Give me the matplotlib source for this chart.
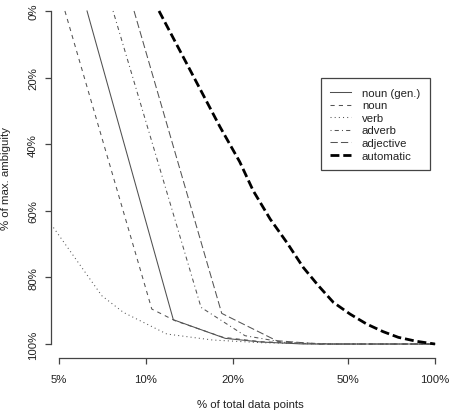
import matplotlib
matplotlib.use("Agg")
import matplotlib.pyplot as plt

plt.rcParams['font.family'] = ['Liberation Sans', 'DejaVu Sans']

# ---- data (x: % of total data points, y: % of max. ambiguity) ----
noun_gen_x = [6.25, 12.43, 18.8, 25.0, 35.0, 100.0]
noun_gen_y = [0.0, 92.7, 98.3, 99.4, 100.0, 100.0]

noun_x = [5.24, 10.47, 12.6, 18.5, 25.0, 40.0, 100.0]
noun_y = [0.0, 89.5, 93.0, 98.0, 99.3, 100.0, 100.0]

verb_x = [4.69, 7.03, 8.35, 11.8, 17.0, 25.0, 40.0, 100.0]
verb_y = [64.0, 85.5, 90.5, 97.0, 98.8, 99.6, 100.0, 100.0]

adverb_x = [7.69, 15.5, 22.0, 30.0, 45.0, 100.0]
adverb_y = [0.0, 89.0, 97.5, 99.5, 100.0, 100.0]

adjective_x = [9.09, 18.28, 28.3, 40.0, 100.0]
adjective_y = [0.0, 90.8, 99.0, 100.0, 100.0]

automatic_x = [11.09, 18.03, 21.1, 23.5, 26.9, 30.7, 35.0, 39.5, 44.5, 50.8,
               58.0, 66.2, 74.7, 86.5, 100.0]
automatic_y = [0.0, 34.8, 45.3, 54.0, 62.5, 69.5, 77.0, 82.5, 87.5, 91.0,
               94.0, 96.3, 98.0, 99.2, 100.0]

x_ticks = [5, 10, 20, 50, 100]
x_ticklabels = ['5%', '10%', '20%', '50%', '100%']
y_ticks = [0, 20, 40, 60, 80, 100]
y_ticklabels = ['0%', '20%', '40%', '60%', '80%', '100%']

labels = ['noun (gen.)', 'noun', 'verb', 'adverb', 'adjective', 'automatic']

# ---- figure ----
W, H = 449, 414
fig = plt.figure(figsize=(W / 100, H / 100), dpi=100)
ax = fig.add_axes([51 / W, 1 - 359 / H, (449 - 51) / W, 359 / H])
ax.patch.set_alpha(0)

gray = '#555555'
lw = 0.75
series = [
    (noun_gen_x, noun_gen_y, dict(color='#505050', lw=lw, linestyle='-')),
    (noun_x, noun_y, dict(color=gray, lw=lw, linestyle=(0, (4, 4)))),
    (verb_x, verb_y, dict(color=gray, lw=lw, linestyle=(0, (1, 3)))),
    (adverb_x, adverb_y, dict(color=gray, lw=lw, linestyle=(0, (1, 3, 4, 3)))),
    (adjective_x, adjective_y, dict(color=gray, lw=lw, linestyle=(0, (7, 3)))),
    (automatic_x, automatic_y, dict(color='black', lw=2.0, linestyle=(0, (3.2, 1.4)))),
]
for (xs, ys, st), lab in zip(series, labels):
    ax.plot(xs, ys, label=lab, **st)

ax.set_xscale('log')
ax.set_xlim(4.69, 111.8)
ax.set_ylim(104.2, -3.6)

for s in ['top', 'right']:
    ax.spines[s].set_visible(False)
axcol = '#444444'
ax.spines['left'].set_bounds(0, 100)
ax.spines['bottom'].set_bounds(5, 100)
for s in ['left', 'bottom']:
    ax.spines[s].set_color(axcol)
    ax.spines[s].set_linewidth(0.9)

ax.set_xticks(x_ticks)
ax.set_xticklabels(x_ticklabels)
ax.xaxis.set_minor_locator(matplotlib.ticker.NullLocator())
ax.set_yticks(y_ticks)
ax.set_yticklabels(y_ticklabels)
ax.tick_params(axis='both', direction='out', length=4.3, width=0.9, color=axcol,
               labelsize=8.2, labelcolor='#222222')
ax.tick_params(axis='x', pad=7)
ax.tick_params(axis='y', pad=5)
for t in ax.get_yticklabels():
    t.set_rotation(90)
    t.set_va('center')
    t.set_ha('right')

fig.text(250 / W, 1 - 405 / H, '% of total data points', ha='center', va='center',
         fontsize=8.2, color='#222222')
fig.text(6.5 / W, 1 - 179 / H, '% of max. ambiguity', ha='center', va='center',
         rotation=90, fontsize=8.2, color='#222222')

leg = ax.legend(loc='upper left', bbox_to_anchor=(320.7 / W, 1 - 79.3 / H),
                bbox_transform=fig.transFigure, borderaxespad=0, fontsize=8.2,
                handlelength=1.82, handletextpad=0.95, labelspacing=0.22,
                borderpad=0.85, fancybox=False, framealpha=1, edgecolor='#444444')
leg.get_frame().set_linewidth(0.9)
for t in leg.get_texts():
    t.set_color('#222222')

fig.savefig('out.png', dpi=100)
